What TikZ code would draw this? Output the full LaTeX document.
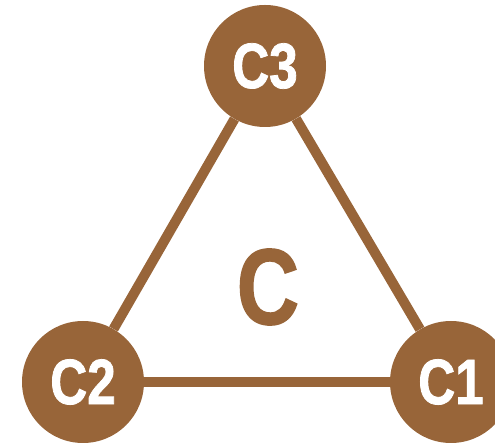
\documentclass[tikz,border=0pt]{standalone}
\usepackage{fontspec}
\newfontfamily\labelfont{Liberation Sans}[FakeStretch=0.8, FakeBold=1.2]
\definecolor{bronze}{RGB}{152,101,57}
\tikzset{
  corner/.style={circle, fill=bronze, minimum size=122pt, inner sep=0pt,
    text=white, font=\labelfont\bfseries\fontsize{64}{64}\selectfont},
  edge/.style={draw=bronze, line width=10pt}
}
\begin{document}
\begin{tikzpicture}[x=1pt, y=1pt]
    % 1. Vùng hiển thị
    \clip (0, 0) rectangle (495, 443);

    % 2. Ba đỉnh của tam giác
    \node[corner] (c3) at (265, 377) {C3};
    \node[corner] (c2) at (83, 61) {C2};
    \node[corner] (c1) at (451, 61) {C1};

    % 3. Các cạnh nối các đỉnh
    \draw[edge] (c3) -- (c2);
    \draw[edge] (c2) -- (c1);
    \draw[edge] (c1) -- (c3);

    % 4. Nhãn ở giữa
    \node[text=bronze, font=\labelfont\bfseries\fontsize{108}{108}\selectfont] (cc) at (268, 156) {C};
\end{tikzpicture}
\end{document}
